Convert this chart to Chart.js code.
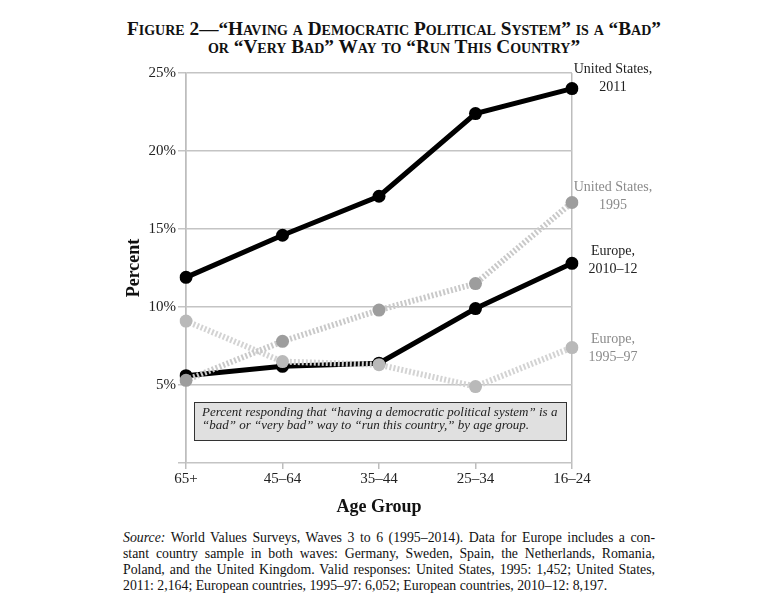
<!DOCTYPE html>
<html lang="en">
<head>
<meta charset="UTF-8">
<title>Figure 2</title>
<script src="https://cdn.jsdelivr.net/npm/chart.js"></script>
<style>
  body { margin: 0; background: #fff; font-family: "Liberation Serif", serif; color: #111; }
  .page { position: relative; width: 768px; height: 610px; overflow: hidden; }
  .titulo { position: absolute; top: 20px; left: 22px; width: 744px; text-align: center;
            font-weight: bold; font-variant: small-caps; font-size: 19.3px; line-height: 18px; color: #111; }
  .grafico { position: absolute; top: 55px; left: 0; width: 768px; height: 470px; }
  .fonte { position: absolute; top: 530px; left: 123px; width: 532px; font-size: 13.8px; line-height: 16px; color: #111; }
  .fonte div { text-align: justify; text-align-last: justify; white-space: nowrap; }
  .fonte div.ultima { text-align-last: left; }
</style>
</head>
<body>
<div class="page">
  <div class="titulo">Figure 2—“Having a Democratic Political System” is a “Bad”<br>or “Very Bad” Way to “Run This Country”</div>
  <div class="grafico"><canvas id="Grafico1" width="768" height="470"></canvas></div>
  <div class="fonte">
    <div><i>Source:</i> World Values Surveys, Waves 3 to 6 (1995–2014). Data for Europe includes a con-</div>
    <div>stant country sample in both waves: Germany, Sweden, Spain, the Netherlands, Romania,</div>
    <div>Poland, and the United Kingdom. Valid responses: United States, 1995: 1,452; United States,</div>
    <div class="ultima">2011: 2,164; European countries, 1995–97: 6,052; European countries, 2010–12: 8,197.</div>
  </div>
</div>
<script>
// dados (percentual por faixa etária)
const faixas = ['65+', '45–64', '35–44', '25–34', '16–24'];
const eua2011 = [11.9, 14.6, 17.1, 22.4, 24.0];
const eua1995 = [5.3, 7.8, 9.8, 11.5, 16.7];
const europa2010 = [5.6, 6.2, 6.4, 9.9, 12.8];
const europa1995 = [9.1, 6.5, 6.3, 4.9, 7.4];
const rotulos = [['United States,', '2011'], ['United States,', '1995'], ['Europe,', '2010–12'], ['Europe,', '1995–97']];
const nota = ['Percent responding that “having a democratic political system” is a',
              '“bad” or “very bad” way to “run this country,” by age group.'];

const serif = '"Liberation Serif", "DejaVu Serif", serif';

// rótulos ao lado do último ponto + caixa da nota
const extras = {
    id: 'extras',
    afterDraw(chart) {
        const ctx = chart.ctx;
        const x = chart.scales.x, y = chart.scales.y;
        const area = chart.chartArea;
        ctx.save();

        // caixa da nota
        const bx = area.left + 8, by = Math.round(y.getPixelForValue(3.9)), bw = area.right - area.left - 14, bh = 38;
        ctx.fillStyle = '#e0e0e0';
        ctx.fillRect(bx, by, bw, bh);
        ctx.strokeStyle = '#333';
        ctx.lineWidth = 1;
        ctx.strokeRect(bx + 0.5, by + 0.5, bw, bh);
        ctx.fillStyle = '#222';
        ctx.font = 'italic 13px ' + serif;
        ctx.textBaseline = 'middle';
        ctx.textAlign = 'left';
        ctx.fillText(nota[0], bx + 8, by + 11);
        ctx.fillText(nota[1], bx + 8, by + 24);

        // rótulos das séries
        const series = [eua2011, eua1995, europa2010, europa1995];
        const cores = ['#222', '#8a8a8a', '#222', '#8a8a8a'];
        const desloc = [-19, -15, -12, -8];
        ctx.font = '14px ' + serif;
        ctx.textAlign = 'center';
        const lx = x.getPixelForValue(faixas.length - 1) + 41;
        series.forEach((s, i) => {
            const py = y.getPixelForValue(s[s.length - 1]) + desloc[i];
            ctx.fillStyle = cores[i];
            ctx.fillText(rotulos[i][0], lx, py);
            ctx.fillText(rotulos[i][1], lx, py + 18);
        });
        ctx.restore();
    }
};

const Grafico1 = document.getElementById('Grafico1');
new Chart(Grafico1, {
    type: 'line',
    data: {
        labels: faixas,
        datasets: [{
            label: 'United States, 1995',
            data: eua1995,
            borderColor: '#c9c9c9',
            backgroundColor: '#9d9d9d',
            borderWidth: 6,
            borderDash: [2, 2],
            pointRadius: 6.5,
            pointBorderWidth: 0,
            order: 1
        }, {
            label: 'Europe, 1995–97',
            data: europa1995,
            borderColor: '#d3d3d3',
            backgroundColor: '#b9b9b9',
            borderWidth: 6,
            borderDash: [2, 2],
            pointRadius: 6.5,
            pointBorderWidth: 0,
            order: 2
        }, {
            label: 'Europe, 2010–12',
            data: europa2010,
            borderColor: '#000',
            backgroundColor: '#000',
            borderWidth: 5,
            pointRadius: 6.5,
            pointBorderWidth: 0,
            order: 3
        }, {
            label: 'United States, 2011',
            data: eua2011,
            borderColor: '#000',
            backgroundColor: '#000',
            borderWidth: 5,
            pointRadius: 6.5,
            pointBorderWidth: 0,
            order: 4
        }]
    },
    options: {
        responsive: false,
        animation: false,
        devicePixelRatio: 1,
        layout: { padding: { left: 124, right: 196, top: 18, bottom: 7 } },
        plugins: {
            legend: { display: false },
            tooltip: { enabled: false }
        },
        scales: {
            x: {
                offset: false,
                grid: {
                    color: c => (c.index === 0 || c.index === faixas.length - 1) ? '#bdbdbd' : 'rgba(0,0,0,0)',
                    tickColor: '#bdbdbd',
                    tickLength: 6,
                    lineWidth: 1.5
                },
                border: { display: false },
                ticks: { color: '#222', font: { family: serif, size: 15 }, padding: 1, maxRotation: 0 },
                title: { display: true, text: 'Age Group', color: '#111', font: { family: serif, size: 18, weight: 'bold' }, padding: { top: 4, bottom: 0 } },
                afterFit(scale) { scale.height = 55; }
            },
            y: {
                min: 0,
                max: 25,
                grid: { color: '#c4c4c4', tickColor: '#c4c4c4', tickLength: 8, lineWidth: 1.5 },
                border: { color: '#bdbdbd', width: 1.5 },
                ticks: {
                    stepSize: 5,
                    color: '#222',
                    font: { family: serif, size: 15 },
                    padding: 2,
                    callback: v => v === 0 ? '' : v + '%'
                },
                title: { display: true, text: 'Percent', color: '#111', font: { family: serif, size: 18, weight: 'bold' }, padding: 0 },
                afterFit(scale) { scale.width = 62; }
            }
        }
    },
    plugins: [extras]
});
</script>
</body>
</html>
